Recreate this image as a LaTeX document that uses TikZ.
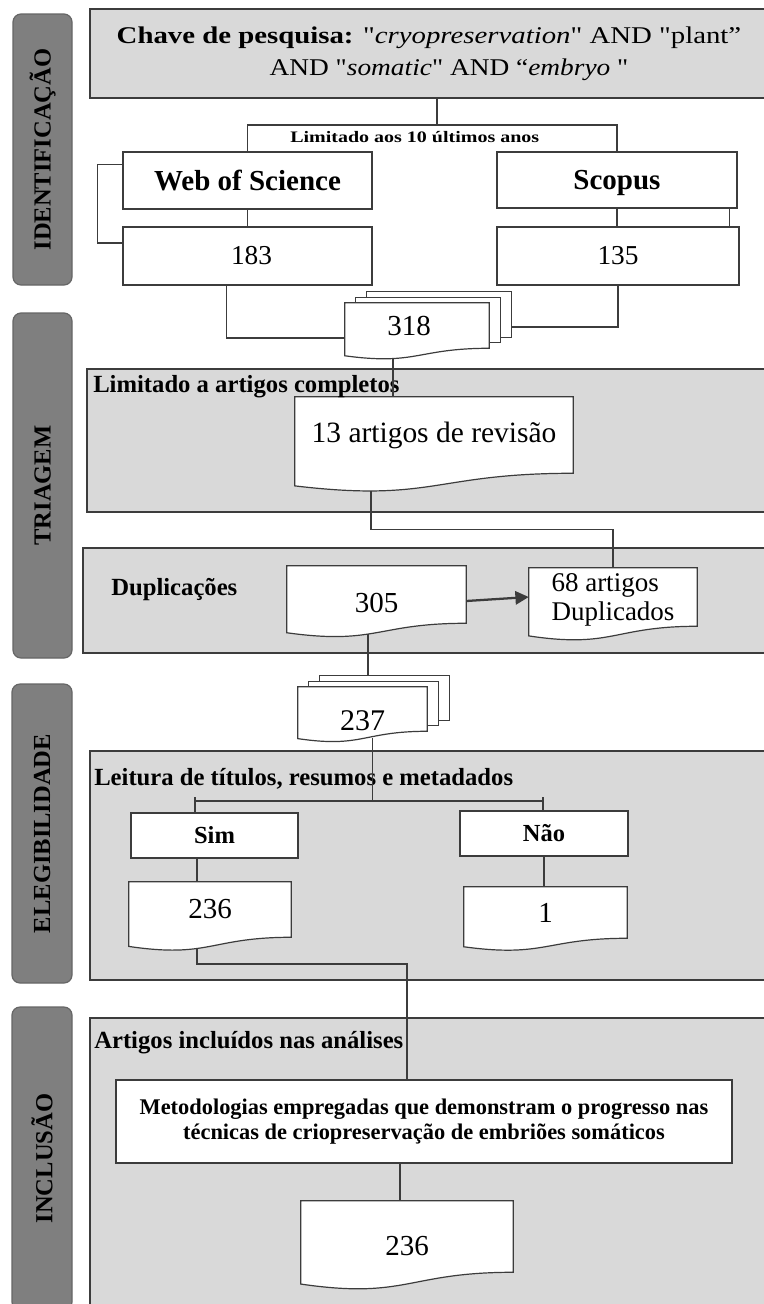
\documentclass[tikz,border=0pt]{standalone}
\usepackage{fontspec}
\setmainfont[Ligatures=TeXOff]{Liberation Serif}
\usepackage{graphicx}
\usetikzlibrary{calc,arrows.meta}
\pgfdeclarelayer{bg}
\pgfdeclarelayer{docs}
\pgfsetlayers{bg,docs,main}
\definecolor{linec}{HTML}{3C3C3C}
\definecolor{secfill}{HTML}{D9D9D9}
\definecolor{tabfill}{HTML}{7F7F7F}
\definecolor{tabline}{HTML}{666666}
\newcommand\fsz[2]{\fontsize{#1}{#2}\selectfont}
% box node from corner (x1,y1) to corner (x2,y2), in pixel units
\newcommand\bx[7][]{\node[inner sep=0pt, #1, minimum width={(#5-#3)*0.75pt}, minimum height={(#6-#4)*0.75pt}] (#2) at ({(#3+#5)/2},{(#4+#6)/2}) {#7};}
\newcommand\docshape[1]{%
  \begin{pgfonlayer}{docs}
  \path[docline] let \p1=(#1.north west), \p2=(#1.south east) in
    (\x1,\y1) -- (\x2,\y1) -- (\x2,\y2)
    .. controls ({0.5*\x1+0.5*\x2},\y2) and ({0.5*\x1+0.5*\x2},{\y2-0.381*(\y1-\y2)}) ..
    (\x1,{\y2-0.1646*(\y1-\y2)}) -- cycle;
  \end{pgfonlayer}}
\newcommand\stackback[1]{%
  \begin{pgfonlayer}{docs}
  \path[docline] ([shift={(22,-11)}]#1.north west) rectangle ([shift={(22,-11)}]#1.south east);
  \path[docline] ([shift={(11,-5.5)}]#1.north west) rectangle ([shift={(11,-5.5)}]#1.south east);
  \end{pgfonlayer}}
\tikzset{
  conn/.style={draw=linec, line width=0.9pt},
  sec/.style={draw=linec, fill=secfill, line width=0.9pt},
  tabbox/.style={draw=tabline, fill=tabfill, rounded corners=6pt, line width=0.9pt, font=\bfseries\fsz{18.4}{20}},
  wbox/.style={draw=linec, fill=white, line width=0.9pt},
  docn/.style={},
  docline/.style={draw=linec, fill=white, line width=0.9pt},
  lbl/.style={anchor=base west, inner sep=0pt, font=\bfseries\fsz{18.5}{20}},
  numtxt/.style={font=\fsz{21.75}{24}},
}
\begin{document}
\begin{tikzpicture}[x=0.75pt, y=-0.75pt]
\useasboundingbox (0,0) rectangle (764,1304);

\begin{pgfonlayer}{bg}
  % side tabs
  \bx[tabbox]{tabI}{13}{14}{72}{285}{\rotatebox{90}{IDENTIFICAÇÃO}}
  \bx[tabbox]{tabT}{13}{313}{72}{658}{\rotatebox{90}{TRIAGEM}}
  \bx[tabbox]{tabE}{12}{684}{72}{983}{\rotatebox{90}{ELEGIBILIDADE}}
  \bx[tabbox]{tabN}{12}{1007}{72}{1310}{\rotatebox{90}{INCLUSÃO}}
  % grey sections
  \bx[sec, align=center, font=\fsz{18}{24}]{key}{90}{9}{768}{98}
    {\scalebox{1.2}[1]{\textbf{Chave de pesquisa:} "\textit{cryopreservation}" AND "plant”}\\
     \hspace*{30pt}\scalebox{1.14}[1]{AND "\textit{somatic}" AND “\textit{embryo} "}}
  \bx[sec]{secT1}{87}{369}{768}{512}{}
  \bx[sec]{secT2}{83}{548}{768}{653}{}
  \bx[sec]{secE}{90}{751}{768}{980}{}
  \bx[sec]{secN}{90}{1018}{768}{1318}{}
\end{pgfonlayer}

% section labels
\node[anchor=base west, inner sep=0pt, font=\bfseries\fsz{12}{14}] (lim) at (290,142)
  {\scalebox{1.25}[1]{Limitado aos 10 últimos anos}};
\node[lbl] (limA) at (93,392.5) {Limitado a artigos completos};
\node[lbl] (dupl) at (111,595) {Duplicações};
\node[lbl] (leit) at (94,785) {Leitura de títulos, resumos e metadados};
\node[lbl] (art) at (94,1048) {Artigos incluídos nas análises};

% white boxes
\bx[wbox, font=\bfseries\fsz{21.75}{24}]{wos}{123}{152}{372}{209}{Web of Science}
\bx[wbox, font=\fsz{20.5}{22}]{n183}{123}{227}{372}{285}{\hspace*{6pt}183}
\bx[wbox, font=\bfseries\fsz{21.75}{24}]{scopus}{497}{152}{737}{208}{\raisebox{-2pt}[\height][\depth]{Scopus}}
\bx[wbox, font=\fsz{20.5}{22}]{n135}{497}{227}{739}{285}{135}
\bx[wbox, font=\bfseries\fsz{18.4}{20}]{sim}{131}{813}{298}{858}{Sim}
\bx[wbox, font=\bfseries\fsz{18.4}{20}]{nao}{460}{811}{628}{856}{Não}
\bx[wbox, align=center, font=\bfseries\fsz{16.8}{18.75}]{metod}{116}{1080}{732}{1163}
  {Metodologias empregadas que demonstram o progresso nas\\técnicas de criopreservação de embriões somáticos}

% document shapes
\bx[docn, numtxt]{n318}{345}{303}{489}{348}{\hspace*{-12pt}318}
\bx[docn, font=\fsz{22.1}{24}]{rev13}{295}{397}{573}{473}{13 artigos de revisão}
\bx[docn, numtxt]{n305}{287}{566}{466}{623}{\raisebox{-6pt}[\height][\depth]{305}}
\bx[docn, align=left, font=\fsz{20.25}{22.5}]{dup68}{529}{568}{697}{626}{\raisebox{-2pt}[\height][\depth]{\shortstack[l]{68 artigos\\Duplicados}}}
\bx[docn, font=\fsz{22.5}{24}]{n237}{298}{687}{427}{731}{\raisebox{-9pt}[\height][\depth]{237}}
\bx[docn, numtxt]{n236a}{129}{882}{291}{937}{236}
\bx[docn, numtxt]{n1}{464}{887}{627}{938}{1}
\bx[docn, numtxt]{n236b}{301}{1201}{513}{1272}{\raisebox{-7.5pt}[\height][\depth]{236}}

\stackback{n318}\docshape{n318}
\docshape{rev13}
\docshape{n305}
\docshape{dup68}
\stackback{n237}\docshape{n237}
\docshape{n236a}
\docshape{n1}
\docshape{n236b}

% connectors
\coordinate (br) at (437,125);
\draw[conn] (key.south -| br) -- (br);
\draw[conn] (wos.north) |- (br) -| (scopus.north);
\draw[conn] (wos.south) -- (n183.north);
\draw[conn] ([shift={(0,-16)}]wos.west) -- ++(-25,0) |- ([shift={(0,-13)}]n183.west);
\draw[conn] (scopus.south) -- (scopus.south |- n135.north);
\coordinate (sr) at ([shift={(-8,0)}]scopus.south east);
\draw[conn] (sr) -- (sr |- n135.north);
\draw[conn] (n135.south) |- ([shift={(22,1.5)}]n318.east);
\draw[conn] ([shift={(-21,0)}]n183.south) |- ([shift={(0,12.5)}]n318.west);
\coordinate (a318) at ([shift={(-24,10)}]n318.south);
\draw[conn] (a318) -- (a318 |- rev13.north);
\coordinate (a13) at ([shift={(-63,17.5)}]rev13.south);
\coordinate (c68) at ([shift={(0,-38)}]dup68.north);
\draw[conn] (a13) |- (c68) -- (dup68.north);
\draw[conn, line width=1.7pt, -{Triangle[length=10pt,width=10pt]}] ([shift={(0,6.5)}]n305.east) -- (dup68.west);
\coordinate (a305) at ([shift={(-8.5,11)}]n305.south);
\coordinate (b237) at ([shift={(0,-11)}]n237.north);
\draw[conn] (a305) -- (a305 |- b237);
\coordinate (a237) at ([shift={(10,7)}]n237.south);
\coordinate (br2) at (373,801);
\draw[conn] (a237) -- (a237 |- br2);
\coordinate (bl) at (195,797);
\coordinate (bR) at (543,797);
\draw[conn] (bl |- br2) -- (bR |- br2);
\draw[conn] (bl) -- (bl |- sim.north);
\draw[conn] (bR) -- (bR |- nao.north);
\coordinate (s1) at (197,0);
\draw[conn] (sim.south -| s1) -- (n236a.north -| s1);
\draw[conn] (nao.south) -- (nao.south |- n1.north);
\coordinate (a236) at ([shift={(-13,12)}]n236a.south);
\coordinate (m1) at (407,964);
\draw[conn] (a236) |- (m1) -- (m1 |- metod.north);
\coordinate (m2) at ([shift={(-7,0)}]n236b.north);
\draw[conn] (m2 |- metod.south) -- (m2);
\end{tikzpicture}
\end{document}
